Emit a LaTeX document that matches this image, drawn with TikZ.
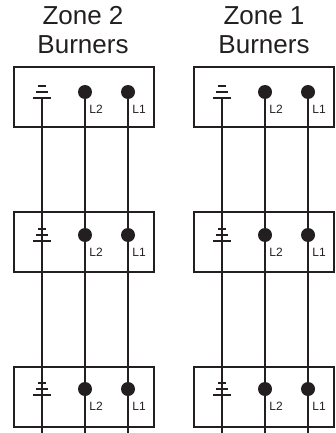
\documentclass[tikz,border=0pt]{standalone}
\usepackage{fontspec}
\setmainfont{Liberation Sans}
\definecolor{ink}{HTML}{231F20}
\begin{document}
\begin{tikzpicture}[x=1pt,y=-1pt,ink]
	\tikzset{panel/.style = {shape=rectangle,draw=ink,line width=1.5pt,minimum width=140pt,minimum height=60pt,inner sep=0pt}}
	\tikzset{terminal/.style = {shape=circle,fill=ink,minimum size=14pt,inner sep=0pt}}
	\tikzset{wire/.style = {draw=ink,line width=1.6pt}}
	\tikzset{bar/.style = {draw=ink,line width=1.2pt}}
	\tikzset{tag/.style = {font=\fontsize{12}{12}\selectfont,text=ink,inner sep=0pt}}
	\tikzset{heading/.style = {font=\fontsize{26}{29}\selectfont,text=ink,align=center,inner sep=0pt}}
	\useasboundingbox (0,0) rectangle (335,433);

	\node[heading] (title2) at (83,30) {Zone 2\\Burners};
	\node[heading] (title1) at (264,30) {Zone 1\\Burners};

	\foreach \zone/\dx in {2/0,1/180}{
		% one panel per row
		\foreach \row/\ty/\dy in {a/97/92,b/242/235,c/397/389}{
			\node[panel] (box\zone\row) at (84+\dx,\ty) {};
			\node[terminal] (two\zone\row) at (85+\dx,\dy) {};
			\node[terminal] (one\zone\row) at (128+\dx,\dy) {};
			\coordinate (gnd\zone\row) at (42+\dx,\dy+6);
			\node[tag] (ltwo\zone\row) at (96+\dx,\dy+17) {L2};
			\node[tag] (lone\zone\row) at (139+\dx,\dy+17) {L1};
			\draw[bar] ([xshift=-9pt]gnd\zone\row) -- ([xshift=9pt]gnd\zone\row);
			\draw[bar] ([xshift=-6pt,yshift=6pt]gnd\zone\row) -- ([xshift=6pt,yshift=6pt]gnd\zone\row);
			\draw[bar] ([xshift=-4pt,yshift=12pt]gnd\zone\row) -- ([xshift=4pt,yshift=12pt]gnd\zone\row);
		}
		\coordinate (endg\zone) at (42+\dx,433);
		\coordinate (endt\zone) at (85+\dx,433);
		\coordinate (endo\zone) at (128+\dx,433);

		\draw[wire] (gnd\zone a) -- (endg\zone);
		\draw[wire] (two\zone a.center) -- (two\zone b.center) -- (two\zone c.center) -- (endt\zone);
		\draw[wire] (one\zone a.center) -- (one\zone b.center) -- (one\zone c.center) -- (endo\zone);
	}

\end{tikzpicture}
\end{document}
